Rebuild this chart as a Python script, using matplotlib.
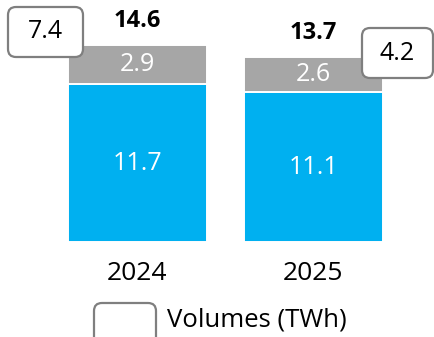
import numpy as np
import matplotlib.pyplot as plt
from matplotlib.patches import FancyBboxPatch

plt.rcParams['font.family'] = ['Open Sans', 'DejaVu Sans']

years = ['2024', '2025']
base = [11.7, 11.1]
top = [2.9, 2.6]
totals = [14.6, 13.7]
callouts = ['7.4', '4.2']
legend_label = 'Volumes (TWh)'

blue = '#00B0F0'
grey = '#A6A6A6'

fig = plt.figure(figsize=(4.34, 3.37), dpi=100, facecolor='white')
ax = fig.add_axes([0, 0, 1, 1])
x = np.arange(len(years))
ax.bar(x, base, width=0.79, color=blue, edgecolor='white', linewidth=1.4)
ax.bar(x, top, bottom=base, width=0.79, color=grey, edgecolor='white', linewidth=1.4)
ax.set_xlim(-0.781, 1.685)
ax.set_ylim(-7.04, 17.93)
ax.axis('off')

for i in range(len(years)):
    ax.text(x[i], base[i] / 2, f'{base[i]}', ha='center', va='center', color='white', fontsize=18)
    ax.text(x[i], base[i] + top[i] / 2, f'{top[i]}', ha='center', va='center', color='white', fontsize=18)
    ax.text(x[i], totals[i] + 1.8, f'{totals[i]}', ha='center', va='center', fontsize=17, fontweight='bold')
    ax.text(x[i], -2.3, years[i], ha='center', va='center', fontsize=19)

# callout boxes (inches from bottom-left)
boxes = [(0.08, 2.80, 0.75, 0.50), (3.62, 2.59, 0.71, 0.50)]
for (bx, by, bw, bh), lab in zip(boxes, callouts):
    p = FancyBboxPatch((bx, by), bw, bh, boxstyle='round,pad=0,rounding_size=0.08',
                       transform=fig.dpi_scale_trans, facecolor='white', edgecolor='#7F7F7F', lw=1.6)
    fig.add_artist(p)
    fig.text(bx + bw / 2, by + bh / 2, lab, transform=fig.dpi_scale_trans,
             ha='center', va='center', fontsize=18)

# legend
p = FancyBboxPatch((0.94, -0.2), 0.62, 0.54, boxstyle='round,pad=0,rounding_size=0.08',
                   transform=fig.dpi_scale_trans, facecolor='white', edgecolor='#7F7F7F', lw=1.6)
fig.add_artist(p)
fig.text(1.67, 0.17, legend_label, transform=fig.dpi_scale_trans, ha='left', va='center', fontsize=18.5)

fig.savefig('out.png', dpi=100)
